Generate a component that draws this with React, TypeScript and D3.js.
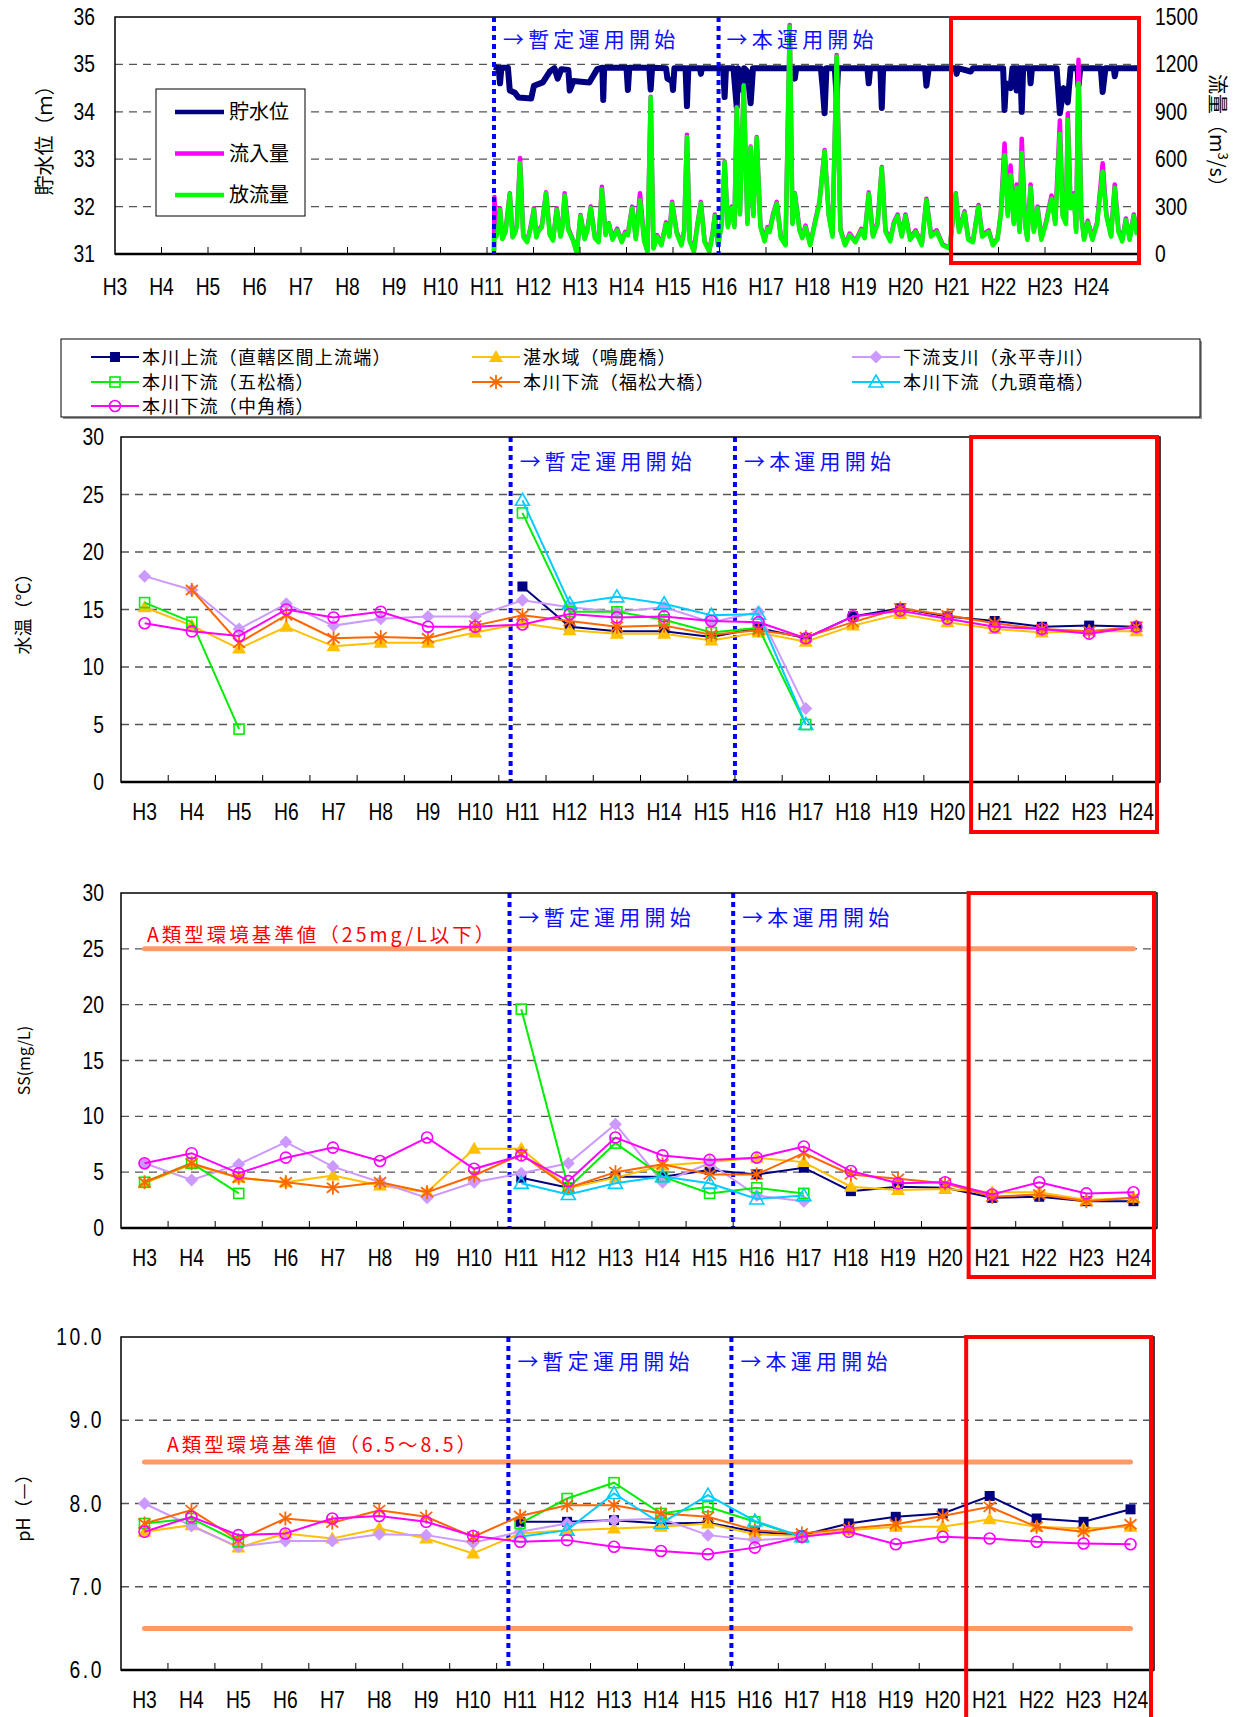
import * as d3 from "d3";

const FONT = "'Noto Sans CJK JP', 'Noto Sans', sans-serif";
const NUM_FONT = "'Liberation Sans', 'Noto Sans', sans-serif";

// ---- shared categories / series ----
const years = ["H3", "H4", "H5", "H6", "H7", "H8", "H9", "H10", "H11", "H12", "H13", "H14", "H15", "H16", "H17", "H18", "H19", "H20", "H21", "H22", "H23", "H24"];
const seriesNames = ["本川上流（直轄区間上流端）", "湛水域（鳴鹿橋）", "下流支川（永平寺川）", "本川下流（五松橋）", "本川下流（福松大橋）", "本川下流（九頭竜橋）", "本川下流（中角橋）"];
const seriesColors = ["#000080", "#FFC000", "#CC99FF", "#00EE00", "#FF6600", "#00CCFF", "#FF00FF"];
const seriesShapes = ["square", "triangle", "diamond", "squareOpen", "asterisk", "triangleOpen", "circleOpen"];

const N = null;

// ---- water temperature (℃) ----
const tempUpstream = [N, N, N, N, N, N, N, N, 17.0, 13.5, 13.1, 13.1, 12.6, 13.4, 12.5, 14.4, 15.1, 14.4, 14.0, 13.5, 13.6, 13.5];
const tempNaruka = [15.2, 13.6, 11.6, 13.5, 11.8, 12.1, 12.1, 13.0, 13.8, 13.2, 12.9, 12.9, 12.3, 13.0, 12.2, 13.6, 14.6, 13.9, 13.3, 13.0, 13.1, 13.1];
const tempEiheiji = [17.9, 16.7, 13.3, 15.5, 13.6, 14.2, 14.4, 14.4, 15.8, 15.2, 14.8, 15.2, 13.9, 14.8, 6.4, N, N, N, N, N, N, N];
const tempGoshou = [15.6, 13.9, 4.6, N, N, N, N, N, 23.4, 14.8, 14.8, 14.1, 13.0, 13.4, 5.0, N, N, N, N, N, N, N];
const tempFukumatsu = [N, 16.7, 12.1, 14.5, 12.5, 12.6, 12.5, 13.6, 14.5, 14.0, 13.5, 13.6, 12.8, 13.2, 12.6, 13.9, 15.1, 14.5, 13.8, 13.3, 13.1, 13.5];
const tempKuzuryu = [N, N, N, N, N, N, N, N, 24.5, 15.5, 16.1, 15.5, 14.5, 14.6, 5.0, N, N, N, N, N, N, N];
const tempNakatsuno = [13.8, 13.1, 12.7, 15.0, 14.3, 14.8, 13.5, 13.5, 13.7, 14.6, 14.3, 14.4, 14.0, 13.9, 12.5, 14.4, 14.9, 14.2, 13.5, 13.3, 12.9, 13.5];

// ---- SS (mg/L) ----
const ssUpstream = [N, N, N, N, N, N, N, N, 4.5, 3.6, 4.6, 4.6, 5.2, 4.8, 5.4, 3.3, 3.7, 3.6, 2.7, 2.8, 2.4, 2.4];
const ssNaruka = [4.0, 5.7, 4.5, 4.1, 4.7, 3.8, 3.2, 7.1, 7.1, 3.6, 4.5, 5.6, 5.9, 6.3, 5.9, 3.7, 3.4, 3.5, 3.2, 3.2, 2.5, 2.7];
const ssEiheiji = [5.8, 4.3, 5.7, 7.7, 5.5, 4.1, 2.7, 4.1, 4.9, 5.8, 9.3, 4.1, 5.8, 2.9, 2.4, N, N, N, N, N, N, N];
const ssGoshou = [4.1, 5.8, 3.1, N, N, N, N, N, 19.6, 3.6, 7.6, 4.6, 3.1, 3.6, 3.1, N, N, N, N, N, N, N];
const ssFukumatsu = [4.1, 5.8, 4.5, 4.1, 3.6, 4.1, 3.2, 4.7, 6.6, 3.6, 5.0, 5.7, 4.8, 4.8, 6.7, 4.8, 4.4, 4.0, 2.8, 3.0, 2.4, 2.7];
const ssKuzuryu = [N, N, N, N, N, N, N, N, 4.0, 3.0, 4.0, 4.6, 4.0, 2.6, 2.9, N, N, N, N, N, N, N];
const ssNakatsuno = [5.8, 6.7, 4.9, 6.3, 7.2, 6.0, 8.1, 5.3, 6.5, 4.2, 8.1, 6.5, 6.1, 6.3, 7.3, 5.1, 4.0, 4.1, 3.0, 4.1, 3.1, 3.2];

// ---- pH ----
const phUpstream = [N, N, N, N, N, N, N, N, 7.78, 7.78, 7.8, 7.76, 7.77, 7.66, 7.62, 7.76, 7.84, 7.88, 8.09, 7.82, 7.78, 7.93];
const phNaruka = [7.66, 7.74, 7.47, 7.64, 7.58, 7.7, 7.58, 7.4, 7.64, 7.68, 7.7, 7.72, 7.76, 7.63, 7.61, 7.68, 7.72, 7.72, 7.81, 7.72, 7.7, 7.72];
const phEiheiji = [8.0, 7.73, 7.48, 7.55, 7.55, 7.63, 7.62, 7.53, 7.66, 7.76, 7.8, 7.82, 7.62, 7.56, 7.59, N, N, N, N, N, N, N];
const phGoshou = [7.76, 7.82, 7.54, N, N, N, N, N, 7.76, 8.06, 8.25, 7.88, 7.96, 7.78, 7.6, N, N, N, N, N, N, N];
const phFukumatsu = [7.76, 7.92, 7.56, 7.82, 7.77, 7.92, 7.84, 7.6, 7.85, 7.98, 7.98, 7.88, 7.84, 7.68, 7.64, 7.7, 7.75, 7.85, 7.96, 7.72, 7.66, 7.75];
const phKuzuryu = [N, N, N, N, N, N, N, N, 7.6, 7.68, 8.12, 7.76, 8.1, 7.79, 7.6, N, N, N, N, N, N, N];
const phNakatsuno = [7.66, 7.84, 7.62, 7.64, 7.82, 7.85, 7.78, 7.61, 7.54, 7.56, 7.48, 7.43, 7.39, 7.47, 7.6, 7.66, 7.51, 7.6, 7.58, 7.54, 7.52, 7.51];

// ---- reservoir level (m): [year, level] ----
const levelRecords = [
  [11.15, 34.95], [11.25, 34.92], [11.28, 34.6], [11.31, 34.93], [11.45, 34.93], [11.49, 34.45], [11.6, 34.4], [11.68, 34.3],
  [11.95, 34.28], [12.01, 34.55], [12.2, 34.62], [12.35, 34.85], [12.45, 34.92], [12.52, 34.7], [12.6, 34.9], [12.75, 34.88],
  [12.78, 34.45], [12.86, 34.65], [13.2, 34.62], [13.37, 34.9], [13.48, 34.93], [13.5, 34.25], [13.52, 34.93], [14.0, 34.93],
  [14.03, 34.46], [14.06, 34.93], [14.49, 34.93], [14.52, 34.47], [14.55, 34.93], [14.85, 34.92], [14.88, 34.7], [14.98, 34.65],
  [15.0, 34.46], [15.03, 34.92], [15.27, 34.92], [15.3, 34.12], [15.33, 34.92], [15.58, 34.92], [15.6, 34.8], [15.62, 34.92],
  [16.08, 34.92], [16.11, 34.31], [16.14, 34.92], [16.3, 34.92], [16.37, 34.1], [16.4, 34.92], [16.5, 34.45], [16.53, 34.92],
  [16.6, 34.85], [16.67, 34.18], [16.72, 34.92], [17.6, 34.92], [17.62, 34.7], [17.65, 34.92], [18.18, 34.92], [18.22, 34.5],
  [18.26, 33.97], [18.3, 34.92], [18.48, 34.92], [18.52, 34.3], [18.55, 34.92], [19.18, 34.92], [19.21, 34.6], [19.24, 34.92],
  [19.46, 34.92], [19.49, 34.08], [19.52, 34.92], [20.42, 34.92], [20.45, 34.55], [20.5, 34.92], [21.08, 34.92], [21.1, 34.8],
  [21.13, 34.92], [21.4, 34.85], [21.45, 34.92], [22.1, 34.92], [22.13, 34.04], [22.16, 34.6], [22.26, 34.5], [22.3, 34.92],
  [22.37, 34.92], [22.39, 34.45], [22.42, 34.92], [22.47, 34.92], [22.5, 34.0], [22.53, 34.92], [22.67, 34.92], [22.69, 34.6],
  [22.72, 34.92], [23.25, 34.92], [23.32, 33.97], [23.4, 34.5], [23.49, 34.2], [23.55, 34.92], [23.7, 34.92], [23.72, 34.55],
  [23.76, 34.92], [24.2, 34.92], [24.24, 34.42], [24.3, 34.92], [24.48, 34.92], [24.5, 34.75], [24.53, 34.92], [24.98, 34.92],
];

// ---- inflow / outflow (m3/s): [year, inflow, outflow] ----
const flowRecords = [
  [11.15, 20, 10], [11.16, 360, 120], [11.2, 120, 110], [11.24, 160, 150], [11.28, 290, 280], [11.33, 100, 95], [11.4, 150, 140], [11.49, 385, 380],
  [11.55, 110, 105], [11.6, 140, 130], [11.64, 180, 170], [11.71, 607, 575], [11.78, 120, 110], [11.86, 80, 75], [11.93, 160, 150], [12.01, 290, 280],
  [12.06, 110, 105], [12.1, 150, 140], [12.18, 180, 170], [12.27, 390, 385], [12.35, 130, 120], [12.42, 90, 85], [12.5, 290, 280], [12.58, 120, 110],
  [12.62, 170, 160], [12.67, 385, 370], [12.75, 160, 150], [12.85, 90, 85], [12.93, 10, 5], [13.01, 247, 240], [13.1, 100, 95], [13.16, 160, 150], [13.23, 300, 290],
  [13.32, 110, 100], [13.4, 80, 75], [13.47, 425, 410], [13.55, 130, 120], [13.62, 195, 190], [13.7, 100, 90], [13.8, 160, 150],
  [13.9, 80, 75], [13.97, 140, 130], [14.03, 130, 120], [14.12, 300, 290], [14.2, 100, 95], [14.29, 385, 340], [14.38, 90, 80], [14.45, 20, 15],
  [14.52, 995, 990], [14.58, 40, 35], [14.66, 120, 110], [14.75, 60, 55], [14.85, 200, 190], [14.92, 120, 110], [14.98, 330, 320], [15.08, 140, 130],
  [15.18, 60, 55], [15.24, 150, 140], [15.3, 755, 740], [15.36, 90, 80], [15.45, 20, 15], [15.52, 180, 170], [15.6, 330, 320], [15.68, 80, 75],
  [15.78, 20, 15], [15.85, 130, 120], [15.9, 250, 240], [15.97, 60, 55], [16.05, 200, 190], [16.11, 585, 580], [16.18, 180, 170], [16.26, 300, 290],
  [16.32, 180, 170], [16.37, 930, 925], [16.44, 260, 250], [16.52, 1070, 1065], [16.6, 200, 190], [16.67, 680, 675], [16.73, 250, 240], [16.8, 740, 735],
  [16.88, 180, 170], [16.97, 90, 80], [17.03, 170, 160], [17.08, 150, 140], [17.15, 250, 240], [17.23, 330, 320], [17.32, 110, 100], [17.42, 60, 55], [17.51, 1450, 1440],
  [17.57, 200, 190], [17.62, 385, 380], [17.72, 160, 150], [17.78, 110, 100], [17.85, 180, 170], [17.95, 60, 55], [18.05, 200, 190], [18.15, 330, 320],
  [18.26, 658, 650], [18.35, 250, 240], [18.43, 120, 110], [18.52, 1260, 1250], [18.6, 160, 150], [18.7, 60, 55], [18.8, 130, 120],
  [18.92, 80, 75], [19.05, 160, 150], [19.12, 110, 100], [19.21, 390, 380], [19.3, 120, 110], [19.4, 200, 190], [19.49, 550, 545], [19.57, 150, 140],
  [19.67, 90, 80], [19.75, 200, 190], [19.83, 250, 240], [19.92, 120, 110], [20.0, 250, 240], [20.1, 100, 90], [20.22, 150, 140],
  [20.35, 60, 55], [20.45, 350, 340], [20.55, 120, 110], [20.67, 150, 140], [20.8, 60, 55], [20.95, 40, 35], [21.08, 385, 380],
  [21.15, 150, 140], [21.27, 270, 260], [21.35, 100, 90], [21.45, 80, 75], [21.57, 310, 300], [21.65, 120, 110], [21.79, 150, 140],
  [21.88, 60, 55], [21.98, 100, 95], [22.05, 260, 250], [22.13, 700, 625], [22.2, 250, 240], [22.26, 560, 500], [22.33, 200, 190],
  [22.39, 440, 420], [22.45, 150, 140], [22.5, 730, 640], [22.57, 200, 190], [22.62, 100, 90], [22.69, 440, 420], [22.76, 150, 140],
  [22.84, 300, 290], [22.92, 100, 90], [23.02, 200, 190], [23.14, 370, 350], [23.22, 200, 190], [23.32, 845, 760], [23.38, 250, 240],
  [23.45, 200, 190], [23.49, 890, 850], [23.55, 300, 290], [23.62, 385, 370], [23.67, 150, 140], [23.72, 1230, 1080], [23.78, 250, 240],
  [23.84, 100, 90], [23.92, 210, 200], [24.02, 100, 90], [24.12, 200, 190], [24.24, 575, 520], [24.32, 250, 240], [24.42, 120, 110],
  [24.5, 440, 420], [24.58, 150, 140], [24.66, 90, 80], [24.74, 225, 215], [24.82, 100, 90], [24.91, 250, 240], [24.98, 130, 120],
];

const flowLegend = [
  { name: "貯水位", color: "#000080" },
  { name: "流入量", color: "#FF00FF" },
  { name: "放流量", color: "#00FF00" },
];

const NUM_SCALE = 0.84;

const NumText = ({ x, y, anchor = "middle", children, size = 23, spacing = 0 }: any) => (
  <text
    transform={`translate(${x},${y}) scale(${NUM_SCALE},1)`}
    textAnchor={anchor}
    fontSize={size}
    fontFamily={NUM_FONT}
    letterSpacing={spacing}
    fill="#000"
  >
    {children}
  </text>
);

const Note = ({ x, y, children }: any) => (
  <text x={x} y={y} fontSize={21} fontFamily={FONT} fill="#1010FF" letterSpacing={4.2}>
    {children}
  </text>
);

const Marker = ({ shape, x, y, color }: any) => {
  switch (shape) {
    case "square":
      return <rect x={x - 5} y={y - 5} width={10} height={10} fill={color} />;
    case "triangle":
      return <path d={`M${x},${y - 7}L${x + 7},${y + 5}L${x - 7},${y + 5}Z`} fill={color} />;
    case "diamond":
      return <path d={`M${x},${y - 6.5}L${x + 6.5},${y}L${x},${y + 6.5}L${x - 6.5},${y}Z`} fill={color} />;
    case "squareOpen":
      return <rect x={x - 5} y={y - 5} width={10} height={10} fill="none" stroke={color} strokeWidth={1.6} />;
    case "asterisk":
      return (
        <g stroke={color} strokeWidth={1.8}>
          <line x1={x} y1={y - 7} x2={x} y2={y + 7} />
          <line x1={x - 6} y1={y - 5} x2={x + 6} y2={y + 5} />
          <line x1={x - 6} y1={y + 5} x2={x + 6} y2={y - 5} />
        </g>
      );
    case "triangleOpen":
      return <path d={`M${x},${y - 7}L${x + 7},${y + 5}L${x - 7},${y + 5}Z`} fill="none" stroke={color} strokeWidth={1.6} />;
    case "circleOpen":
      return <circle cx={x} cy={y} r={5.5} fill="none" stroke={color} strokeWidth={1.6} />;
    default:
      return null;
  }
};

const StorageChart = () => {
  const left = 115, right = 1138, top = 17, bottom = 254;
  const x = d3.scaleLinear().domain([3, 25]).range([left, right]);
  const yLevel = d3.scaleLinear().domain([31, 36]).range([bottom, top]);
  const yFlow = d3.scaleLinear().domain([0, 1500]).range([bottom, top]);

  const levelPath = d3.line<number[]>().x((d) => x(d[0])).y((d) => yLevel(d[1]))(levelRecords as number[][]);
  const inflowPath = d3.line<number[]>().x((d) => x(d[0])).y((d) => yFlow(d[1]))(flowRecords as number[][]);
  const outflowPath = d3.line<number[]>().x((d) => x(d[0])).y((d) => yFlow(d[2]))(flowRecords as number[][]);

  const levelTicks = d3.range(31, 37);
  const flowTicks = d3.range(0, 1501, 300);
  const yearTicks = d3.range(3, 25);

  return (
    <g>
      {levelTicks.slice(1, -1).map((v) => (
        <line key={v} x1={left} x2={right} y1={yLevel(v)} y2={yLevel(v)} stroke="#555" strokeWidth={1.3} strokeDasharray="8,6" />
      ))}
      <path d={levelPath || undefined} fill="none" stroke="#000080" strokeWidth={6} strokeLinejoin="round" />
      <path d={inflowPath || undefined} fill="none" stroke="#FF00FF" strokeWidth={4.5} strokeLinejoin="round" />
      <path d={outflowPath || undefined} fill="none" stroke="#00FF00" strokeWidth={4.5} strokeLinejoin="round" />

      <rect x={left} y={top} width={right - left} height={bottom - top} fill="none" stroke="#000" strokeWidth={1.5} />
      <line x1={left} x2={right} y1={bottom} y2={bottom} stroke="#000" strokeWidth={2.5} />
      {yearTicks.slice(1).map((t) => (
        <line key={t} x1={x(t)} x2={x(t)} y1={bottom} y2={bottom - 7} stroke="#000" strokeWidth={1} />
      ))}

      <line x1={x(11.15)} x2={x(11.15)} y1={top} y2={bottom} stroke="#0000FF" strokeWidth={4} strokeDasharray="5,4" />
      <line x1={x(15.98)} x2={x(15.98)} y1={top} y2={bottom} stroke="#0000FF" strokeWidth={4} strokeDasharray="5,4" />
      <Note x={x(11.15) + 9} y={47}>→暫定運用開始</Note>
      <Note x={x(15.98) + 8} y={47}>→本運用開始</Note>

      {/* legend */}
      <rect x={156} y={89} width={149} height={127} fill="#fff" stroke="#000" strokeWidth={1} />
      {flowLegend.map((d, i) => (
        <g key={d.name}>
          <line x1={175} x2={224} y1={112 + i * 41.5} y2={112 + i * 41.5} stroke={d.color} strokeWidth={4.5} />
          <text x={229} y={112 + i * 41.5 + 7} fontSize={20} fontFamily={FONT}>{d.name}</text>
        </g>
      ))}

      {levelTicks.map((v) => (
        <NumText key={v} x={95} y={yLevel(v) + 8} anchor="end">{v}</NumText>
      ))}
      {flowTicks.map((v) => (
        <NumText key={v} x={1155} y={yFlow(v) + 8} anchor="start">{v}</NumText>
      ))}
      {yearTicks.map((t) => (
        <NumText key={t} x={x(t)} y={bottom + 41}>{`H${t}`}</NumText>
      ))}

      <text transform={`translate(52,${(top + bottom) / 2}) rotate(-90)`} textAnchor="middle" fontSize={20} fontFamily={FONT}>
        貯水位（ｍ）
      </text>
      <text transform={`translate(1210,${(top + bottom) / 2}) rotate(90)`} textAnchor="middle" fontSize={20} fontFamily={FONT}>
        流量（m<tspan fontSize={13} dy={-8}>3</tspan><tspan dy={8}>/s）</tspan>
      </text>

      <rect x={x(21) - 1} y={18} width={x(25) - x(21) + 2} height={245} fill="none" stroke="#FF0000" strokeWidth={4} />
    </g>
  );
};

const SeriesLegend = () => {
  const cols = [91, 472, 852];
  const rows = [357, 382, 406];
  return (
    <g>
      <rect x={63} y={341} width={1139} height={78} fill="#999" />
      <rect x={61} y={339} width={1139} height={78} fill="#fff" stroke="#000" strokeWidth={1} />
      {seriesNames.map((name, i) => {
        const cx = cols[i % 3];
        const cy = rows[Math.floor(i / 3)];
        return (
          <g key={name}>
            <line x1={cx} x2={cx + 48} y1={cy} y2={cy} stroke={seriesColors[i]} strokeWidth={2} />
            <Marker shape={seriesShapes[i]} x={cx + 24} y={cy} color={seriesColors[i]} />
            <text x={cx + 51} y={cy + 6.5} fontSize={18} fontFamily={FONT} letterSpacing={1.2}>{name}</text>
          </g>
        );
      })}
    </g>
  );
};

const CategoryChart = ({ top, bottom, left, right, yMin, yMax, yStep, fmt, labelSpacing, series, thresholds, thresholdText, title, titleSize, redBottom }: any) => {
  const x = d3.scalePoint<string>().domain(years).range([left, right]).padding(0.5);
  const step = x.step();
  const y = d3.scaleLinear().domain([yMin, yMax]).range([bottom, top]);
  const ticks = d3.range(yMin, yMax + yStep / 2, yStep);
  const line = d3
    .line<number | null>()
    .defined((d) => d != null)
    .x((_, i) => x(years[i])!)
    .y((d) => y(d as number));

  const line1 = x("H11")! - 0.25 * step;
  const line2 = x("H16")! - 0.5 * step;
  const redLeft = x("H21")! - 0.5 * step;

  return (
    <g>
      {ticks.slice(1, -1).map((v: number) => (
        <line key={v} x1={left} x2={right} y1={y(v)} y2={y(v)} stroke="#555" strokeWidth={1.3} strokeDasharray="8,6" />
      ))}
      {thresholds.map((v: number) => (
        <line key={v} x1={x("H3")} x2={x("H24")} y1={y(v)} y2={y(v)} stroke="#FF9966" strokeWidth={5} strokeLinecap="round" />
      ))}
      {thresholdText && (
        <text x={thresholdText.x} y={thresholdText.y} fontSize={19.5} fontFamily={FONT} fill="#FF0000" letterSpacing={3}>
          {thresholdText.text}
        </text>
      )}

      <line x1={line1} x2={line1} y1={top} y2={bottom} stroke="#0000FF" strokeWidth={4} strokeDasharray="5,4" />
      <line x1={line2} x2={line2} y1={top} y2={bottom} stroke="#0000FF" strokeWidth={4} strokeDasharray="5,4" />
      <Note x={line1 + 9} y={top + 32}>→暫定運用開始</Note>
      <Note x={line2 + 9} y={top + 32}>→本運用開始</Note>

      {series.map((values: (number | null)[], i: number) => (
        <g key={i}>
          <path d={line(values) || undefined} fill="none" stroke={seriesColors[i]} strokeWidth={2} />
          {values.map((v, j) =>
            v == null ? null : <Marker key={j} shape={seriesShapes[i]} x={x(years[j])} y={y(v)} color={seriesColors[i]} />
          )}
        </g>
      ))}

      <rect x={left} y={top} width={right - left} height={bottom - top} fill="none" stroke="#000" strokeWidth={1.5} />
      <line x1={left} x2={right} y1={bottom} y2={bottom} stroke="#000" strokeWidth={2.5} />
      {years.slice(1).map((yr) => (
        <line key={yr} x1={x(yr)! - step / 2} x2={x(yr)! - step / 2} y1={bottom} y2={bottom - 7} stroke="#000" strokeWidth={1} />
      ))}

      {ticks.map((v: number) => (
        <NumText key={v} x={left - 17} y={y(v) + 8} anchor="end" spacing={labelSpacing}>{fmt(v)}</NumText>
      ))}
      {years.map((yr) => (
        <NumText key={yr} x={x(yr)} y={bottom + 38}>{yr}</NumText>
      ))}

      <text transform={`translate(30,${(top + bottom) / 2}) rotate(-90)`} textAnchor="middle" fontSize={titleSize} fontFamily={FONT}>
        {title}
      </text>

      <rect x={redLeft} y={top} width={right - redLeft - 3} height={redBottom - top} fill="none" stroke="#FF0000" strokeWidth={4} />
    </g>
  );
};

const App = () => {
  const fmtInt = d3.format("d");
  const fmtOne = (v: number) => d3.format(".1f")(v);
  return (
    <svg width={1242} height={1717} style={{ position: "absolute", left: 0, top: 0, background: "#fff" }}>
      <rect width={1242} height={1717} fill="#fff" />
      <StorageChart />
      <SeriesLegend />
      <CategoryChart
        top={437}
        bottom={782}
        left={121}
        right={1160}
        yMin={0}
        yMax={30}
        yStep={5}
        fmt={fmtInt}
        labelSpacing={0}
        series={[tempUpstream, tempNaruka, tempEiheiji, tempGoshou, tempFukumatsu, tempKuzuryu, tempNakatsuno]}
        thresholds={[]}
        title="水温（℃）"
        titleSize={18}
        redBottom={832}
      />
      <CategoryChart
        top={893}
        bottom={1228}
        left={121}
        right={1157}
        yMin={0}
        yMax={30}
        yStep={5}
        fmt={fmtInt}
        labelSpacing={0}
        series={[ssUpstream, ssNaruka, ssEiheiji, ssGoshou, ssFukumatsu, ssKuzuryu, ssNakatsuno]}
        thresholds={[25]}
        thresholdText={{ text: "A類型環境基準値（25mg/L以下）", x: 147, y: 942 }}
        title="SS(mg/L)"
        titleSize={16}
        redBottom={1277}
      />
      <CategoryChart
        top={1337}
        bottom={1670}
        left={121}
        right={1154}
        yMin={6}
        yMax={10}
        yStep={1}
        fmt={fmtOne}
        labelSpacing={3}
        series={[phUpstream, phNaruka, phEiheiji, phGoshou, phFukumatsu, phKuzuryu, phNakatsuno]}
        thresholds={[6.5, 8.5]}
        thresholdText={{ text: "A類型環境基準値（6.5～8.5）", x: 167, y: 1452 }}
        title="pH（—）"
        titleSize={18}
        redBottom={1722}
      />
    </svg>
  );
};

export default App;
